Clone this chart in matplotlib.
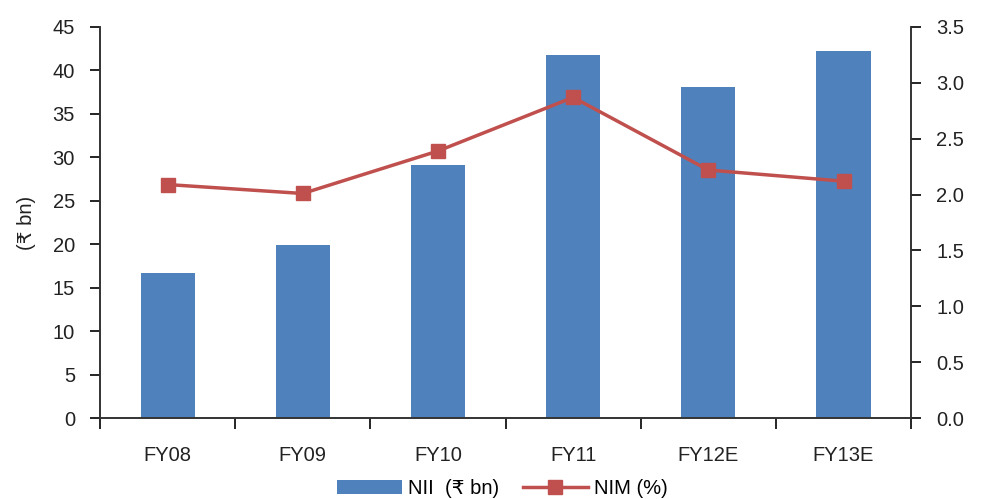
import numpy as np
import matplotlib.pyplot as plt
from matplotlib.ticker import FixedLocator, NullFormatter

plt.rcParams['font.family'] = ['Liberation Sans', 'DejaVu Sans']

years = ["FY08", "FY09", "FY10", "FY11", "FY12E", "FY13E"]
nii = [16.7, 19.9, 29.1, 41.8, 38.1, 42.2]
nim = [2.09, 2.01, 2.39, 2.87, 2.22, 2.12]

bar_color = "#4F81BD"
line_color = "#C0504D"

fig = plt.figure(figsize=(9.85, 4.99), dpi=100)
ax = fig.add_axes([0.1015, 0.162, 0.8235, 0.784])
ax2 = ax.twinx()

x = np.arange(len(years))
bars = ax.bar(x, nii, width=0.4, color=bar_color, label="NII  (\u20b9 bn)", zorder=2)
line, = ax2.plot(x, nim, color=line_color, lw=2.5, marker="s", ms=10,
                 label="NIM (%)", zorder=3)

ax.set_xlim(-0.5, len(years) - 0.5)
ax.set_ylim(0, 45)
ax.set_yticks(np.arange(0, 46, 5))
ax2.set_ylim(0, 3.5)
ax2.set_yticks(np.arange(0, 3.51, 0.5))
ax2.set_yticklabels([f"{v:.1f}" for v in np.arange(0, 3.51, 0.5)])

# category labels centred, tick marks between categories
ax.set_xticks(x)
ax.set_xticklabels(years)
ax.tick_params(axis="x", length=0, pad=20)
ax.xaxis.set_minor_locator(FixedLocator(np.arange(-0.5, len(years), 1)))
ax.xaxis.set_minor_formatter(NullFormatter())
ax.tick_params(axis="x", which="minor", length=8, width=1.2, direction="out")

ax.tick_params(axis="y", length=7, width=1.2, direction="out", pad=11)
ax2.tick_params(axis="y", length=7, width=1.2, direction="out", pad=11)
ax.tick_params(labelsize=14.5, labelcolor="#222222")
ax2.tick_params(labelsize=14.5, labelcolor="#222222")

for a in (ax, ax2):
    a.spines["top"].set_visible(False)
    for s in ("left", "right", "bottom"):
        a.spines[s].set_linewidth(1.2)
        a.spines[s].set_color("#333333")

ax.set_ylabel("(\u20b9 bn)", fontsize=14.5, labelpad=12, color="#222222")

fig.legend(handles=[bars, line], loc="lower center", bbox_to_anchor=(0.51, -0.035),
           ncol=2, frameon=False, fontsize=14.5, handlelength=3.2, columnspacing=1.2,
           handletextpad=0.3)

fig.savefig("out.png", dpi=100)
